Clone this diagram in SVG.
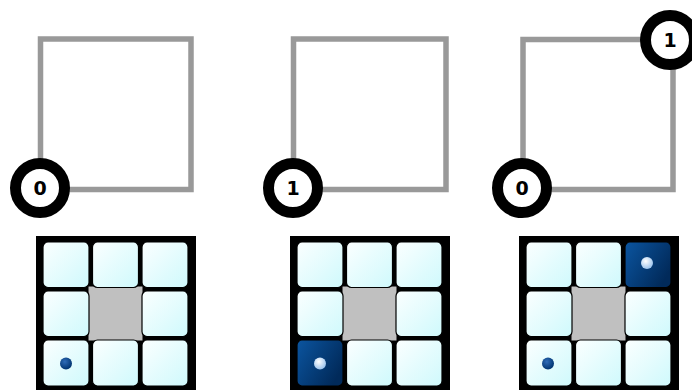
<svg xmlns="http://www.w3.org/2000/svg" width="692" height="390" viewBox="0 0 692 390">
<defs>
<linearGradient id="cellG" x1="0" y1="0" x2="1" y2="1">
<stop offset="0" stop-color="#fbffff"/>
<stop offset="1" stop-color="#cff9fc"/>
</linearGradient>
<linearGradient id="darkG" x1="0" y1="0" x2="1" y2="0.6">
<stop offset="0" stop-color="#0b55a0"/>
<stop offset="1" stop-color="#012a5a"/>
</linearGradient>
<radialGradient id="dotDark" cx="0.4" cy="0.35" r="0.65">
<stop offset="0" stop-color="#2f6cb8"/>
<stop offset="1" stop-color="#003470"/>
</radialGradient>
<radialGradient id="dotLight" cx="0.4" cy="0.35" r="0.65">
<stop offset="0" stop-color="#ffffff"/>
<stop offset="1" stop-color="#9cc4ee"/>
</radialGradient>
<g id="grid">
<rect x="0" y="0" width="160" height="160" fill="#000"/>
<rect x="52.5" y="50.5" width="54" height="54" fill="#c0c0c0"/>
<g class="cell">
<rect x="7" y="6" width="46" height="45.5" rx="5"/>
<rect x="56.5" y="6" width="46" height="45.5" rx="5"/>
<rect x="106" y="6" width="46" height="45.5" rx="5"/>
<rect x="7" y="55" width="46" height="45.5" rx="5"/>
<rect x="106" y="55" width="46" height="45.5" rx="5"/>
<rect x="7" y="104" width="46" height="46" rx="5"/>
<rect x="56.5" y="104" width="46" height="46" rx="5"/>
<rect x="106" y="104" width="46" height="46" rx="5"/>
</g>
</g>
</defs>
<style>
.sq{fill:none;stroke:#999999;stroke-width:5.5}
.ring{fill:#fff;stroke:#000;stroke-width:11}
.num{font-family:"DejaVu Sans",Verdana,sans-serif;font-weight:bold;font-size:19px;text-anchor:middle;fill:#000}
.cell rect{fill:url(#cellG);stroke:#000;stroke-width:1.2}
.dark{fill:url(#darkG);stroke:#000;stroke-width:1.2}
</style>

<g id="panel1">
<rect id="square1" class="sq" x="40.5" y="39" width="150.5" height="150.5"/>
<g id="grid1"><use href="#grid" x="36" y="236"/></g>
<circle cx="66" cy="363.5" r="6" fill="url(#dotDark)"/>
<g id="node1-0"><circle class="ring" cx="40" cy="188" r="24.5"/><text class="num" x="40" y="195">0</text></g>
</g>

<g id="panel2">
<rect id="square2" class="sq" x="293.5" y="39" width="152.5" height="150.5"/>
<g id="grid2"><use href="#grid" x="290" y="236"/>
<rect class="dark" x="297" y="340" width="46" height="46" rx="5"/></g>
<circle cx="320" cy="363.5" r="6" fill="url(#dotLight)"/>
<g id="node2-1"><circle class="ring" cx="293" cy="188" r="24.5"/><text class="num" x="293" y="195">1</text></g>
</g>

<g id="panel3">
<rect id="square3" class="sq" x="523" y="39.5" width="150" height="150"/>
<g id="grid3"><use href="#grid" x="519" y="236"/>
<rect class="dark" x="625" y="242" width="46" height="45.5" rx="5"/></g>
<circle cx="647" cy="263" r="6" fill="url(#dotLight)"/>
<circle cx="548" cy="363.5" r="6" fill="url(#dotDark)"/>
<g id="node3-0"><circle class="ring" cx="522" cy="188" r="24.5"/><text class="num" x="522" y="195">0</text></g>
<g id="node3-1"><circle class="ring" cx="670" cy="40" r="24.5"/><text class="num" x="670" y="47">1</text></g>
</g>
</svg>
